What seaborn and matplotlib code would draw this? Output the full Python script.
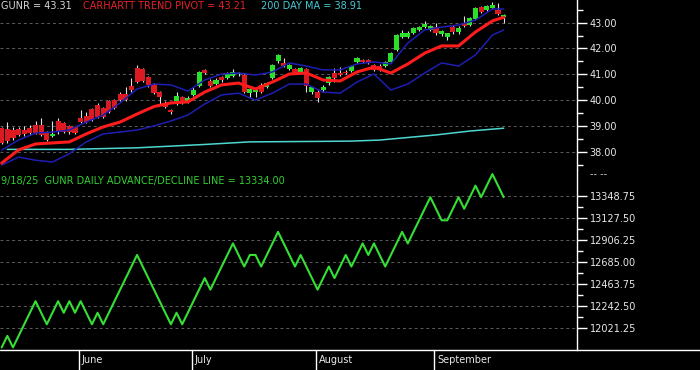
import numpy as np
import pandas as pd
import matplotlib
matplotlib.use('Agg')
import matplotlib.pyplot as plt
from matplotlib.lines import Line2D
from matplotlib.ticker import FixedLocator, MultipleLocator, FormatStrFormatter
import seaborn as sns

# trading days 5/12/25 .. 9/18/25
holidays = ['2025-05-26', '2025-06-19', '2025-07-04', '2025-09-01']
dates = pd.bdate_range('2025-05-12', '2025-09-18', freq='C', holidays=holidays)

# GUNR daily candles
opens = [38.92, 38.88, 38.85, 38.88, 38.85, 38.90, 39.05, 39.05, 38.72, 38.62,
         39.18, 39.10, 39.00, 38.95, 39.30, 39.40, 39.65, 39.82, 39.68, 39.95,
         40.00, 40.25, 40.22, 40.55, 41.25, 41.20, 40.88, 40.58, 40.30, 39.90,
         39.62, 39.97, 40.12, 39.93, 40.20, 40.55, 41.17, 40.75, 40.63, 40.90,
         40.85, 40.95, 41.00, 40.98, 40.28, 40.30, 40.60, 40.50, 40.85, 41.50,
         41.42, 41.20, 41.20, 41.10, 41.20, 40.32, 40.30, 40.38, 40.66, 41.05,
         41.05, 41.10, 41.13, 41.48, 41.55, 41.55, 41.36, 41.33, 41.32, 41.48,
         41.94, 42.45, 42.46, 42.60, 42.72, 42.84, 42.72, 42.84, 42.55, 42.45,
         42.84, 42.65, 43.00, 42.92, 43.15, 43.60, 43.50, 43.57, 43.49, 43.22]
highs = [38.95, 39.16, 38.95, 38.95, 38.98, 39.05, 39.20, 39.30, 38.80, 39.18,
         39.30, 39.15, 39.05, 39.00, 39.62, 39.55, 39.70, 39.90, 39.75, 40.00,
         40.05, 40.30, 40.50, 40.85, 41.36, 41.25, 40.95, 40.65, 40.35, 39.95,
         39.65, 40.30, 40.15, 40.15, 40.50, 41.12, 41.20, 40.80, 40.85, 40.95,
         41.10, 41.20, 41.10, 41.05, 40.45, 40.45, 40.65, 40.70, 41.40, 41.78,
         41.62, 41.40, 41.25, 41.30, 41.25, 40.55, 40.40, 40.58, 40.92, 41.25,
         41.28, 41.15, 41.36, 41.68, 41.60, 41.58, 41.40, 41.38, 41.52, 41.86,
         42.55, 42.70, 42.66, 42.85, 42.88, 43.05, 42.92, 42.98, 42.70, 42.62,
         42.90, 42.88, 43.26, 43.22, 43.60, 43.65, 43.68, 43.82, 43.78, 43.35]
lows = [38.30, 38.35, 38.45, 38.60, 38.60, 38.65, 38.68, 38.60, 38.40, 38.58,
        38.70, 38.72, 38.70, 38.68, 39.10, 39.10, 39.18, 39.30, 39.30, 39.50,
        39.65, 39.95, 39.95, 40.30, 40.65, 40.70, 40.50, 40.22, 39.85, 39.70,
        39.48, 39.80, 39.85, 39.88, 40.15, 40.50, 41.00, 40.50, 40.58, 40.72,
        40.80, 40.90, 40.95, 40.28, 40.10, 40.12, 40.28, 40.45, 40.80, 41.45,
        41.28, 41.15, 41.00, 41.05, 40.30, 40.25, 39.92, 40.33, 40.60, 40.70,
        40.92, 41.00, 41.08, 41.45, 41.42, 41.40, 41.12, 41.12, 41.28, 41.45,
        41.90, 42.40, 42.42, 42.55, 42.68, 42.80, 42.68, 42.52, 42.50, 42.33,
        42.58, 42.58, 42.82, 42.88, 43.10, 43.38, 43.45, 43.53, 43.30, 43.00]
closes = [38.34, 38.42, 38.52, 38.65, 38.68, 38.72, 38.72, 38.65, 38.45, 38.70,
          38.75, 38.78, 38.78, 38.72, 39.15, 39.15, 39.22, 39.35, 39.35, 39.55,
          39.70, 40.00, 40.00, 40.38, 40.70, 40.75, 40.58, 40.28, 40.12, 39.75,
          39.52, 40.17, 39.93, 40.10, 40.40, 41.10, 41.05, 40.55, 40.78, 40.78,
          41.05, 41.10, 41.05, 40.32, 40.42, 40.40, 40.32, 40.65, 41.36, 41.75,
          41.32, 41.35, 41.05, 41.25, 40.55, 40.50, 40.08, 40.52, 40.88, 40.85,
          40.97, 41.05, 41.32, 41.63, 41.47, 41.46, 41.17, 41.17, 41.48, 41.83,
          42.52, 42.60, 42.60, 42.80, 42.84, 42.95, 42.87, 42.60, 42.66, 42.60,
          42.64, 42.80, 42.87, 43.18, 43.57, 43.42, 43.65, 43.69, 43.34, 43.31]

# overlay lines, sampled every few sessions
line_days = [0, 3, 6, 9, 12, 15, 18, 21, 24, 27, 30, 33, 36, 39, 42, 45,
             48, 51, 54, 57, 60, 63, 66, 69, 72, 75, 78, 81, 84, 87, 89]
pivot_vals = [37.56, 38.07, 38.30, 38.34, 38.38, 38.69, 38.96, 39.15, 39.46, 39.75,
              39.89, 39.93, 40.31, 40.59, 40.66, 40.43, 40.70, 41.01, 41.05, 40.78,
              40.74, 41.09, 41.28, 41.05, 41.40, 41.82, 42.10, 42.10, 42.64, 43.07,
              43.21]
upper_vals = [38.06, 38.45, 38.72, 38.76, 38.84, 39.15, 39.42, 39.89, 40.43, 40.62,
              40.59, 40.35, 40.78, 41.01, 41.05, 40.97, 41.09, 41.44, 41.32, 41.17,
              41.17, 41.40, 41.48, 41.40, 42.21, 42.72, 42.83, 42.91, 43.10, 43.53,
              43.53]
lower_vals = [37.48, 37.79, 37.67, 37.60, 37.92, 38.38, 38.69, 38.76, 38.84, 39.00,
              39.19, 39.42, 39.85, 40.20, 40.27, 40.00, 40.27, 40.62, 40.62, 40.31,
              40.27, 40.70, 41.01, 40.39, 40.62, 41.05, 41.44, 41.32, 41.75, 42.52,
              42.72]
ma_days = [1, 12, 24, 36, 44, 57, 62, 67, 77, 83, 89]
ma_vals = [38.09, 38.09, 38.15, 38.28, 38.38, 38.40, 38.41, 38.45, 38.65, 38.80, 38.91]

# daily advance/decline line
ad_line = [11826, 11942, 11826, 11942, 12058, 12174, 12290, 12174, 12058, 12174,
           12290, 12174, 12290, 12174, 12290, 12174, 12058, 12174, 12058, 12174,
           12290, 12406, 12522, 12638, 12754, 12638, 12522, 12406, 12290, 12174,
           12058, 12174, 12058, 12174, 12290, 12406, 12522, 12406, 12522, 12638,
           12754, 12870, 12754, 12638, 12754, 12754, 12638, 12754, 12870, 12986,
           12870, 12754, 12638, 12754, 12638, 12522, 12406, 12522, 12638, 12522,
           12638, 12754, 12638, 12754, 12870, 12754, 12870, 12754, 12638, 12754,
           12870, 12986, 12870, 12986, 13102, 13218, 13334, 13218, 13102, 13102,
           13218, 13334, 13218, 13334, 13450, 13334, 13450, 13566, 13450, 13334]

price_ticks = [38.00, 39.00, 40.00, 41.00, 42.00, 43.00]
ad_ticks = [12021.25, 12242.50, 12463.75, 12685.00, 12906.25, 13127.50, 13348.75]

UP = '#2be02b'
DOWN = '#dc1a22'
WICK = '#e0e0e0'
PIVOT = '#ff1c1c'
BAND = '#1e1eb4'
MA = '#4cd8d0'
AD = '#35e035'
GRID = '#5c5c5c'

sns.set_theme(style='dark', rc={'axes.facecolor': 'black', 'figure.facecolor': 'black',
                                'axes.edgecolor': 'white', 'text.color': '#e0e0e0'})
plt.rcParams['font.family'] = ['DejaVu Sans']

df = pd.DataFrame({'day': np.arange(len(dates)), 'date': dates, 'open': opens,
                   'high': highs, 'low': lows, 'close': closes, 'ad': ad_line})

W, H = 700, 370
TOP_H, BOT_H, XAX_H = 170, 180, 20
fig = plt.figure(figsize=(W / 100, H / 100), dpi=100)
ax1 = fig.add_axes([0, 1 - TOP_H / H, 577 / W, TOP_H / H])
ax2 = fig.add_axes([0, XAX_H / H, 577 / W, BOT_H / H])


def style_axis(ax, ylim, major, minor):
    ax.set_xlim(-0.3, 102)
    ax.set_ylim(*ylim)
    ax.yaxis.tick_right()
    ax.yaxis.set_major_locator(FixedLocator(major))
    ax.yaxis.set_minor_locator(minor)
    ax.yaxis.set_major_formatter(FormatStrFormatter('%.2f'))
    ax.tick_params(axis='y', which='major', length=7, width=1, colors='white',
                   labelcolor='#e8e8e8', labelsize=7, pad=2)
    ax.tick_params(axis='y', which='minor', length=4.3, width=1, colors='white')
    ax.tick_params(axis='x', bottom=False, labelbottom=False)
    ax.grid(False)
    ax.grid(axis='y', which='major', color=GRID, linestyle=(0, (3, 3)), linewidth=0.7)
    for side in ['top', 'left', 'bottom']:
        ax.spines[side].set_visible(False)
    ax.spines['right'].set_color('white')
    ax.spines['right'].set_linewidth(1)
    ax.set_xlabel('')
    ax.set_ylabel('')


# --- price panel ---
up = df['close'] >= df['open']
body = (df['close'] - df['open']).abs().clip(lower=0.05)
ax1.vlines(df['day'], df['low'], df['high'], color=WICK, linewidth=0.8, zorder=2)
ax1.bar(df['day'], body, bottom=df[['open', 'close']].min(axis=1), width=0.9,
        color=np.where(up, UP, DOWN), linewidth=0, zorder=3)

sns.lineplot(x=ma_days, y=ma_vals, ax=ax1, color=MA, linewidth=1.1, zorder=4)
sns.lineplot(x=line_days, y=lower_vals, ax=ax1, color=BAND, linewidth=1.1, zorder=4)
sns.lineplot(x=line_days, y=upper_vals, ax=ax1, color=BAND, linewidth=1.1, zorder=4)
sns.lineplot(x=line_days, y=pivot_vals, ax=ax1, color=PIVOT, linewidth=2.2, zorder=5)

style_axis(ax1, (37.29, 43.88), price_ticks, MultipleLocator(0.5))

hdr = dict(xy=(0, 1), xycoords='axes fraction', textcoords='offset pixels',
           va='center', ha='left', fontsize=7)
ax1.annotate(f'GUNR = {closes[-1]:.2f}', xytext=(1, -6), color='#d8d8d8', **hdr)
ax1.annotate(f'CARHARTT TREND PIVOT = {pivot_vals[-1]:.2f}', xytext=(83, -6),
             color='#e8202a', **hdr)
ax1.annotate(f'200 DAY MA = {ma_vals[-1]:.2f}', xytext=(261, -6), color='#44ccd8', **hdr)

# --- advance/decline panel ---
sns.lineplot(data=df, x='day', y='ad', ax=ax2, color=AD, linewidth=1.5, zorder=4)
ad_minor = [(a + b) / 2 for a, b in zip(ad_ticks[:-1], ad_ticks[1:])]
style_axis(ax2, (11800, 13607), ad_ticks, FixedLocator(ad_minor))

last = df['date'].iloc[-1]
ax2.annotate(f'{last.month}/{last.day}/{last:%y}  GUNR DAILY ADVANCE/DECLINE LINE = '
             f'{ad_line[-1]:.2f}', xytext=(1, -11), color='#30d030', **hdr)
fig.text(590 / W, 1 - 174 / H, '-- --', color='#c8c8c8', fontsize=7, va='center')

# month separators along the bottom
month_start = df.index[df['date'].dt.month != df['date'].dt.month.shift()][1:]
xt = ax2.get_xaxis_transform()
for i in month_start:
    ax2.plot([i - 0.3, i - 0.3], [0, -XAX_H / BOT_H], transform=xt, color='white',
             linewidth=1, clip_on=False)
    ax2.annotate(df['date'][i].strftime('%B'), xy=(i - 0.3, -10 / BOT_H), xycoords=xt,
                 xytext=(3, 0), textcoords='offset pixels', va='center', ha='left',
                 color='#e8e8e8', fontsize=7)
fig.add_artist(Line2D([0, 1], [XAX_H / H, XAX_H / H], color='white', linewidth=1,
                      transform=fig.transFigure))

fig.savefig('out.png', dpi=100, facecolor='black')
